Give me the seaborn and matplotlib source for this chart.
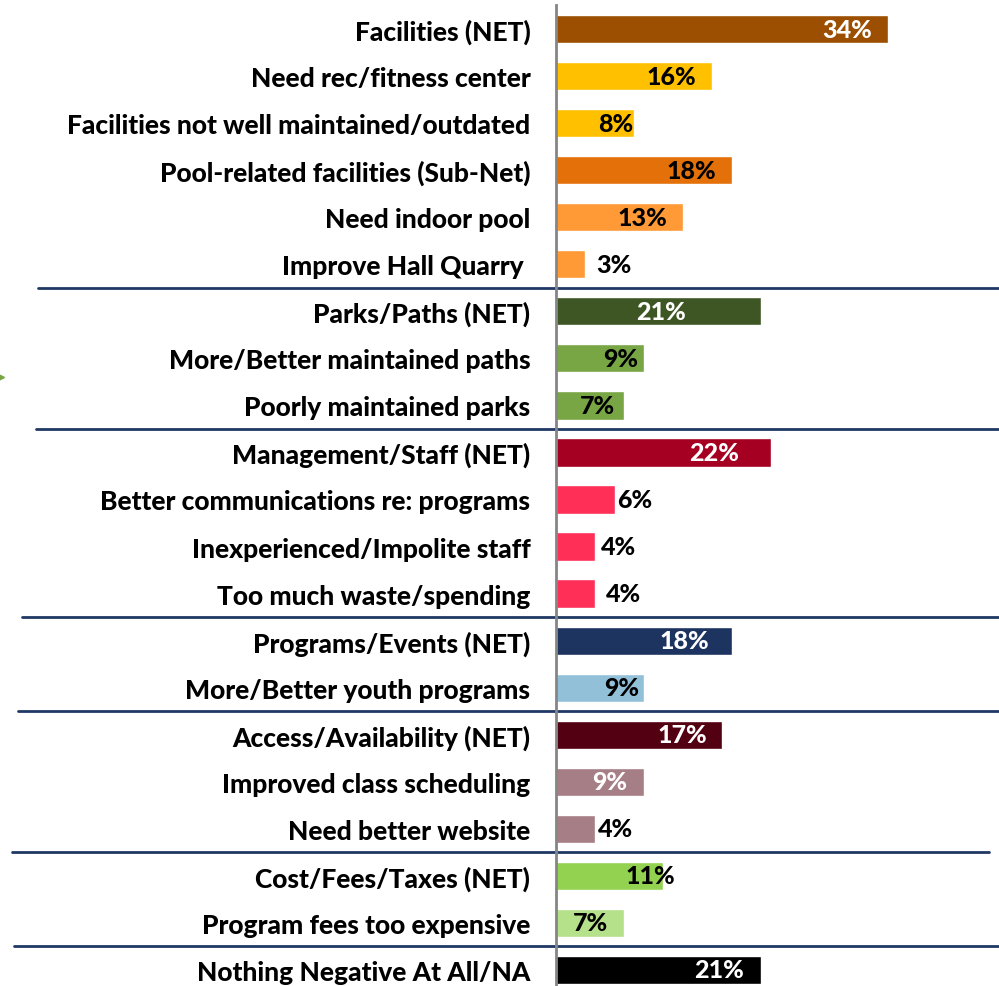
import matplotlib
matplotlib.use("Agg")
import matplotlib.pyplot as plt
import seaborn as sns
import numpy as np
import pandas as pd

# datos
categorias = [
    "Facilities (NET)",
    "Need rec/fitness center",
    "Facilities not well maintained/outdated",
    "Pool-related facilities (Sub-Net)",
    "Need indoor pool",
    "Improve Hall Quarry ",
    "Parks/Paths (NET)",
    "More/Better maintained paths",
    "Poorly maintained parks",
    "Management/Staff (NET)",
    "Better communications re: programs",
    "Inexperienced/Impolite staff",
    "Too much waste/spending",
    "Programs/Events (NET)",
    "More/Better youth programs",
    "Access/Availability (NET)",
    "Improved class scheduling",
    "Need better website",
    "Cost/Fees/Taxes (NET)",
    "Program fees too expensive",
    "Nothing Negative At All/NA",
]
porcentajes = [34, 16, 8, 18, 13, 3, 21, 9, 7, 22, 6, 4, 4, 18, 9, 17, 9, 4, 11, 7, 21]
grupos = ["Facilities"] * 6 + ["Parks"] * 3 + ["Management"] * 4 + ["Programs"] * 2 \
    + ["Access"] * 3 + ["Cost"] * 2 + ["Nothing"]

colores = [
    "#9C4F00", "#FFC000", "#FFC000", "#E4700A", "#FF9A36", "#FF9A36",
    "#3E5524", "#78A645", "#78A645",
    "#A50021", "#FF2F58", "#FF2F58", "#FF2F58",
    "#1D3360", "#93C0D9",
    "#520012", "#A67E85", "#A67E85",
    "#93D150", "#B4E18A",
    "#000000",
]

# estilo de las etiquetas: color y desplazamiento (px) del borde derecho respecto al final de la barra
color_etiqueta = ["white", "black", "black", "black", "black", "black",
                  "white", "black", "black",
                  "white", "black", "black", "black",
                  "white", "black",
                  "white", "white", "black",
                  "black", "black",
                  "white"]
dx_etiqueta = [-16, -16, -1, -16, -16, 46, -75, -6, -9, -32, 38, 41, 46,
               -23, -5, -15, -17, 38, 12, -16, -17]

# extensión horizontal (px de figura) de las líneas separadoras
sep_izq = [38, 36, 22, 18, 12, 14]
sep_der = [999, 999, 999, 999, 989, 999]

df = pd.DataFrame({"cat": categorias, "pct": porcentajes})

sns.set_theme(style="white")
plt.rcParams["font.family"] = ["Lato", "DejaVu Sans"]
PESO = "black"

W, H = 999, 987
fig = plt.figure(figsize=(W / 100, H / 100), dpi=100)
x0 = 556
escala = 9.77  # px por %
fila = 47.05
y_top = 30 - fila / 2
n = len(categorias)
alto_ax = n * fila
ax = fig.add_axes([x0 / W, (H - (y_top + alto_ax)) / H, (W - x0) / W, alto_ax / H])

sns.barplot(data=df, x="pct", y="cat", hue="cat", palette=colores, legend=False,
            orient="h", width=0.6, saturation=1, ax=ax)

ax.set_xlim(0, (W - x0) / escala)
ax.set_ylim(n - 0.5, -0.5)
ax.set_xlabel("")
ax.set_ylabel("")
ax.set_xticks([])

for s in ["top", "right", "bottom"]:
    ax.spines[s].set_visible(False)
ax.spines["left"].set_color("#858585")
ax.spines["left"].set_linewidth(2)

ax.set_yticks(range(n))
ax.set_yticklabels(categorias, fontsize=19, fontweight=PESO, color="black")
ax.tick_params(axis="y", which="major", length=0, pad=18.5)
ax.set_yticks(np.arange(-0.5, n, 1), minor=True)
ax.tick_params(axis="y", which="minor", length=5.8, width=2, color="#858585", direction="out")

# etiquetas de valor
for i, v in enumerate(porcentajes):
    ax.annotate(f"{v}%", xy=(v, i), xytext=(dx_etiqueta[i], 0), textcoords="offset pixels",
                ha="right", va="center", fontsize=18, fontweight=PESO,
                color=color_etiqueta[i])

# separadores entre grupos
cortes = [i + 0.5 for i in range(n - 1) if grupos[i] != grupos[i + 1]]
for k, yb in enumerate(cortes):
    ax.axhline(yb, xmin=(sep_izq[k] - x0) / (W - x0), xmax=(sep_der[k] - x0) / (W - x0),
               color="#1F3864", linewidth=2, clip_on=False)

# pequeña marca verde en el borde izquierdo
fig.add_artist(plt.Line2D([1 / W], [1 - 378 / H], marker=">", markersize=5,
                          color="#78A645", transform=fig.transFigure))

plt.savefig("out.png", dpi=100)
plt.close()
